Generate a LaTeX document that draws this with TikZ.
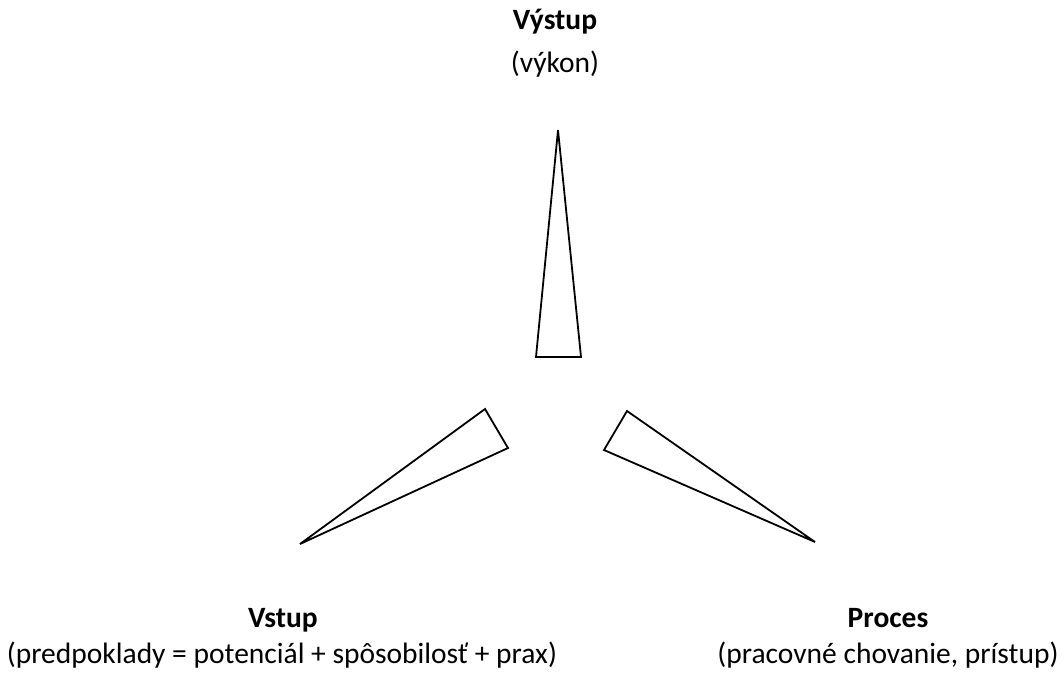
\documentclass[tikz,border=0pt]{standalone}
\usepackage{fontspec}
\setmainfont{Carlito}
\tikzset{
    lbl/.style={anchor=base, inner sep=0pt, font=\fontsize{29.5}{35}\selectfont},
    head/.style={lbl, font=\fontsize{29.5}{35}\selectfont\bfseries},
    wedge/.style={draw, line width=1.8pt, line join=miter}
}
\begin{document}
\begin{tikzpicture}[x=1pt,y=-1pt]
    \useasboundingbox (0,0) rectangle (1064,675);
    % output
    \draw[wedge] (558,130) -- (581,357) -- (536,357) -- cycle;
    \node[head] (outhead) at (555,29) {Výstup};
    \node[lbl] (outtext) at (555,72) {(výkon)};
    % input
    \draw[wedge] (300,544) -- (485,409) -- (508,448) -- cycle;
    \node[head] (inhead) at (283,627) {Vstup};
    \node[lbl] (intext) at (282,663) {(predpoklady = potenciál + spôsobilosť + prax)};
    % process
    \draw[wedge] (815,542) -- (627,411) -- (604,450) -- cycle;
    \node[head] (prochead) at (888,627) {Proces};
    \node[lbl] (proctext) at (888,663) {(pracovné chovanie, prístup)};
\end{tikzpicture}
\end{document}
